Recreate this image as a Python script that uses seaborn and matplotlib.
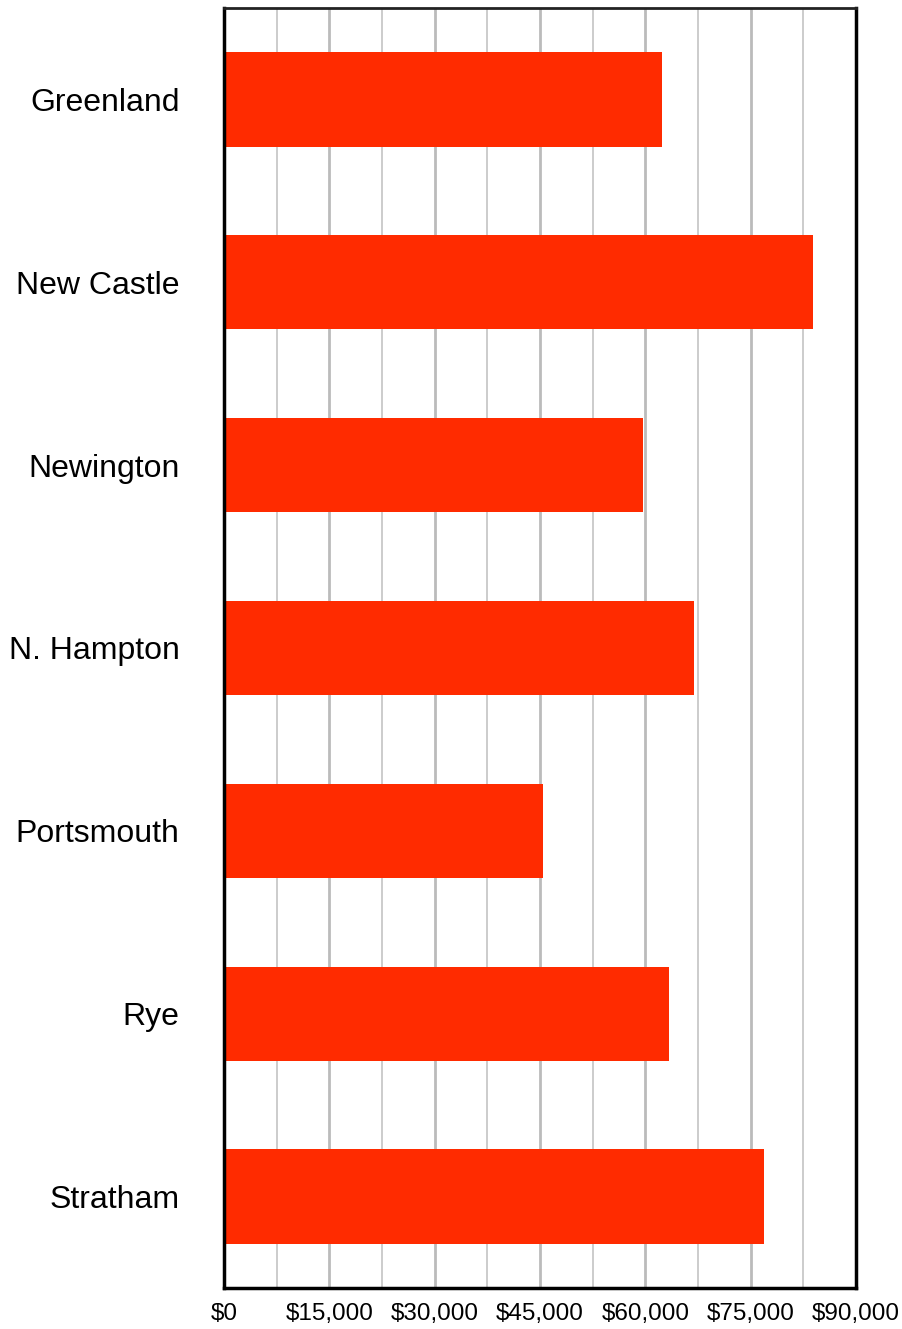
import matplotlib
matplotlib.use("Agg")
import matplotlib.pyplot as plt
import seaborn as sns
import pandas as pd
from matplotlib.ticker import MultipleLocator, FuncFormatter

towns = ["Greenland", "New Castle", "Newington", "N. Hampton", "Portsmouth", "Rye", "Stratham"]
values = [62400, 83900, 59700, 66900, 45400, 63400, 76900]
xticks = [0, 15000, 30000, 45000, 60000, 75000, 90000]

df = pd.DataFrame({"town": towns, "value": values})

sns.set_theme(style="white")
plt.rcParams["font.family"] = ["Liberation Sans", "DejaVu Sans"]

fig = plt.figure(figsize=(9.02, 13.29), dpi=100)
ax = fig.add_axes([224 / 902, 1 - 1288 / 1329, (856 - 224) / 902, (1288 - 8) / 1329])

sns.barplot(data=df, y="town", x="value", orient="h", color="#FF2B00",
            saturation=1, width=0.515, linewidth=0, edgecolor="none", ax=ax, zorder=2)

ax.set_xlim(0, 90000)
ax.set_ylim(6.5, -0.5)
ax.set_xticks(xticks)
ax.xaxis.set_major_formatter(FuncFormatter(lambda v, p: "$" + format(int(v), ",")))
ax.xaxis.set_minor_locator(MultipleLocator(7500))
ax.grid(which="major", axis="x", color="#BBBBBB", linewidth=2.0)
ax.grid(which="minor", axis="x", color="#CCCCCC", linewidth=1.4)
ax.set_axisbelow(True)
ax.set_xlabel("")
ax.set_ylabel("")

ax.tick_params(axis="y", length=0, pad=32, labelsize=23, labelcolor="black")
ax.tick_params(axis="x", which="both", length=0, pad=11, labelsize=17.5, labelcolor="black")

for side, lw, c in [("left", 2.5, "black"), ("bottom", 2.5, "black"),
                    ("right", 2.5, "black"), ("top", 2.0, "#222222")]:
    ax.spines[side].set_visible(True)
    ax.spines[side].set_linewidth(lw)
    ax.spines[side].set_color(c)
    ax.spines[side].set_zorder(4)

fig.savefig("out.png", dpi=100, facecolor="white")
